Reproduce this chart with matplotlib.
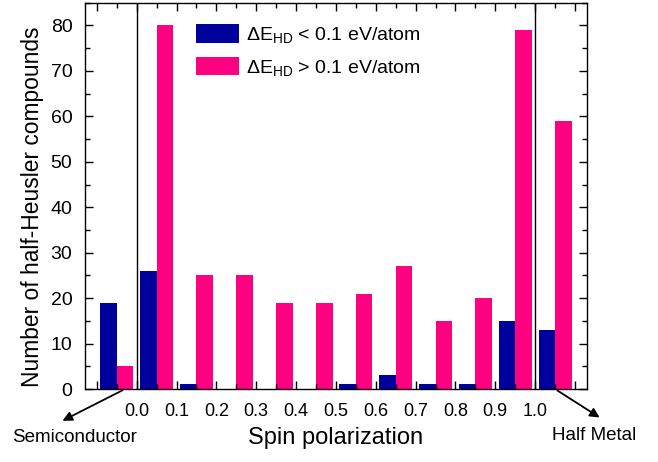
import matplotlib
matplotlib.use("Agg")
import matplotlib.pyplot as plt
from matplotlib.ticker import MultipleLocator, FixedLocator
import numpy as np

plt.rcParams['font.family'] = ['Liberation Sans', 'DejaVu Sans']
plt.rcParams['mathtext.fontset'] = 'custom'
plt.rcParams['mathtext.rm'] = 'Liberation Sans'
plt.rcParams['mathtext.it'] = 'Liberation Sans:italic'

# group centres: semiconductor, ten bins 0.0-1.0, half metal
centers = [-0.05, 0.05, 0.15, 0.25, 0.35, 0.45, 0.55, 0.65, 0.75, 0.85, 0.95, 1.05]
low_hd = [19, 26, 1, 0, 0, 0, 1, 3, 1, 1, 15, 13]     # dE_HD < 0.1 eV/atom
high_hd = [5, 80, 25, 25, 19, 19, 21, 27, 15, 20, 79, 59]  # dE_HD > 0.1 eV/atom
tick_vals = [0.0, 0.1, 0.2, 0.3, 0.4, 0.5, 0.6, 0.7, 0.8, 0.9, 1.0]

blue = '#00009C'
pink = '#FF0080'

fig = plt.figure(figsize=(6.58, 4.62), dpi=100)
ax = fig.add_axes([0.129, 0.158, 0.763, 0.836])

w = 0.0415
x = np.array(centers)
ax.bar(x - w / 2, low_hd, width=w, color=blue, label=r'$\Delta$E$_{\rm HD}$ < 0.1 eV/atom')
ax.bar(x + w / 2, high_hd, width=w, color=pink, label=r'$\Delta$E$_{\rm HD}$ > 0.1 eV/atom')

ax.axvline(0.0, color='black', lw=1.0)
ax.axvline(1.0, color='black', lw=1.0)

ax.set_xlim(-0.13, 1.13)
ax.set_ylim(0, 85)

ax.xaxis.set_major_locator(FixedLocator(np.round(np.arange(-0.1, 1.15, 0.1), 2)))
ax.xaxis.set_minor_locator(FixedLocator(centers))
ax.set_xticklabels([''] + ['%.1f' % t for t in tick_vals] + [''])
ax.yaxis.set_major_locator(MultipleLocator(10))
ax.yaxis.set_minor_locator(MultipleLocator(5))

ax.tick_params(which='both', direction='in', top=True, right=True, width=1.0)
ax.tick_params(which='major', length=6)
ax.tick_params(which='minor', length=3.5)
ax.tick_params(axis='x', labelsize=13, pad=10)
ax.tick_params(axis='y', labelsize=14, pad=9)
for s in ax.spines.values():
    s.set_linewidth(1.0)

ax.set_xlabel('Spin polarization', fontsize=17, labelpad=5)
ax.set_ylabel('Number of half-Heusler compounds', fontsize=16.4)
ax.yaxis.set_label_coords(-0.082, 0.471)

ax.legend(loc='upper left', bbox_to_anchor=(0.187, 0.99), fontsize=14, frameon=False,
          handlelength=2.2, handleheight=1.1, handletextpad=0.35, labelspacing=0.6)

# arrows to the end categories
ax.annotate('', xy=(60 / 658, 1 - 422 / 462), xycoords='figure fraction',
            xytext=(-0.05 + w / 2, 0), textcoords='data',
            arrowprops=dict(arrowstyle='-|>', color='black', lw=1.3, mutation_scale=14))
ax.annotate('', xy=(602 / 658, 1 - 419 / 462), xycoords='figure fraction',
            xytext=(1.05, 0), textcoords='data',
            arrowprops=dict(arrowstyle='-|>', color='black', lw=1.3, mutation_scale=14))
fig.text(75 / 658, 1 - 437 / 462, 'Semiconductor', fontsize=13.5, ha='center', va='center')
fig.text(594 / 658, 1 - 435 / 462, 'Half Metal', fontsize=13.5, ha='center', va='center')

fig.savefig('out.png', dpi=100)
